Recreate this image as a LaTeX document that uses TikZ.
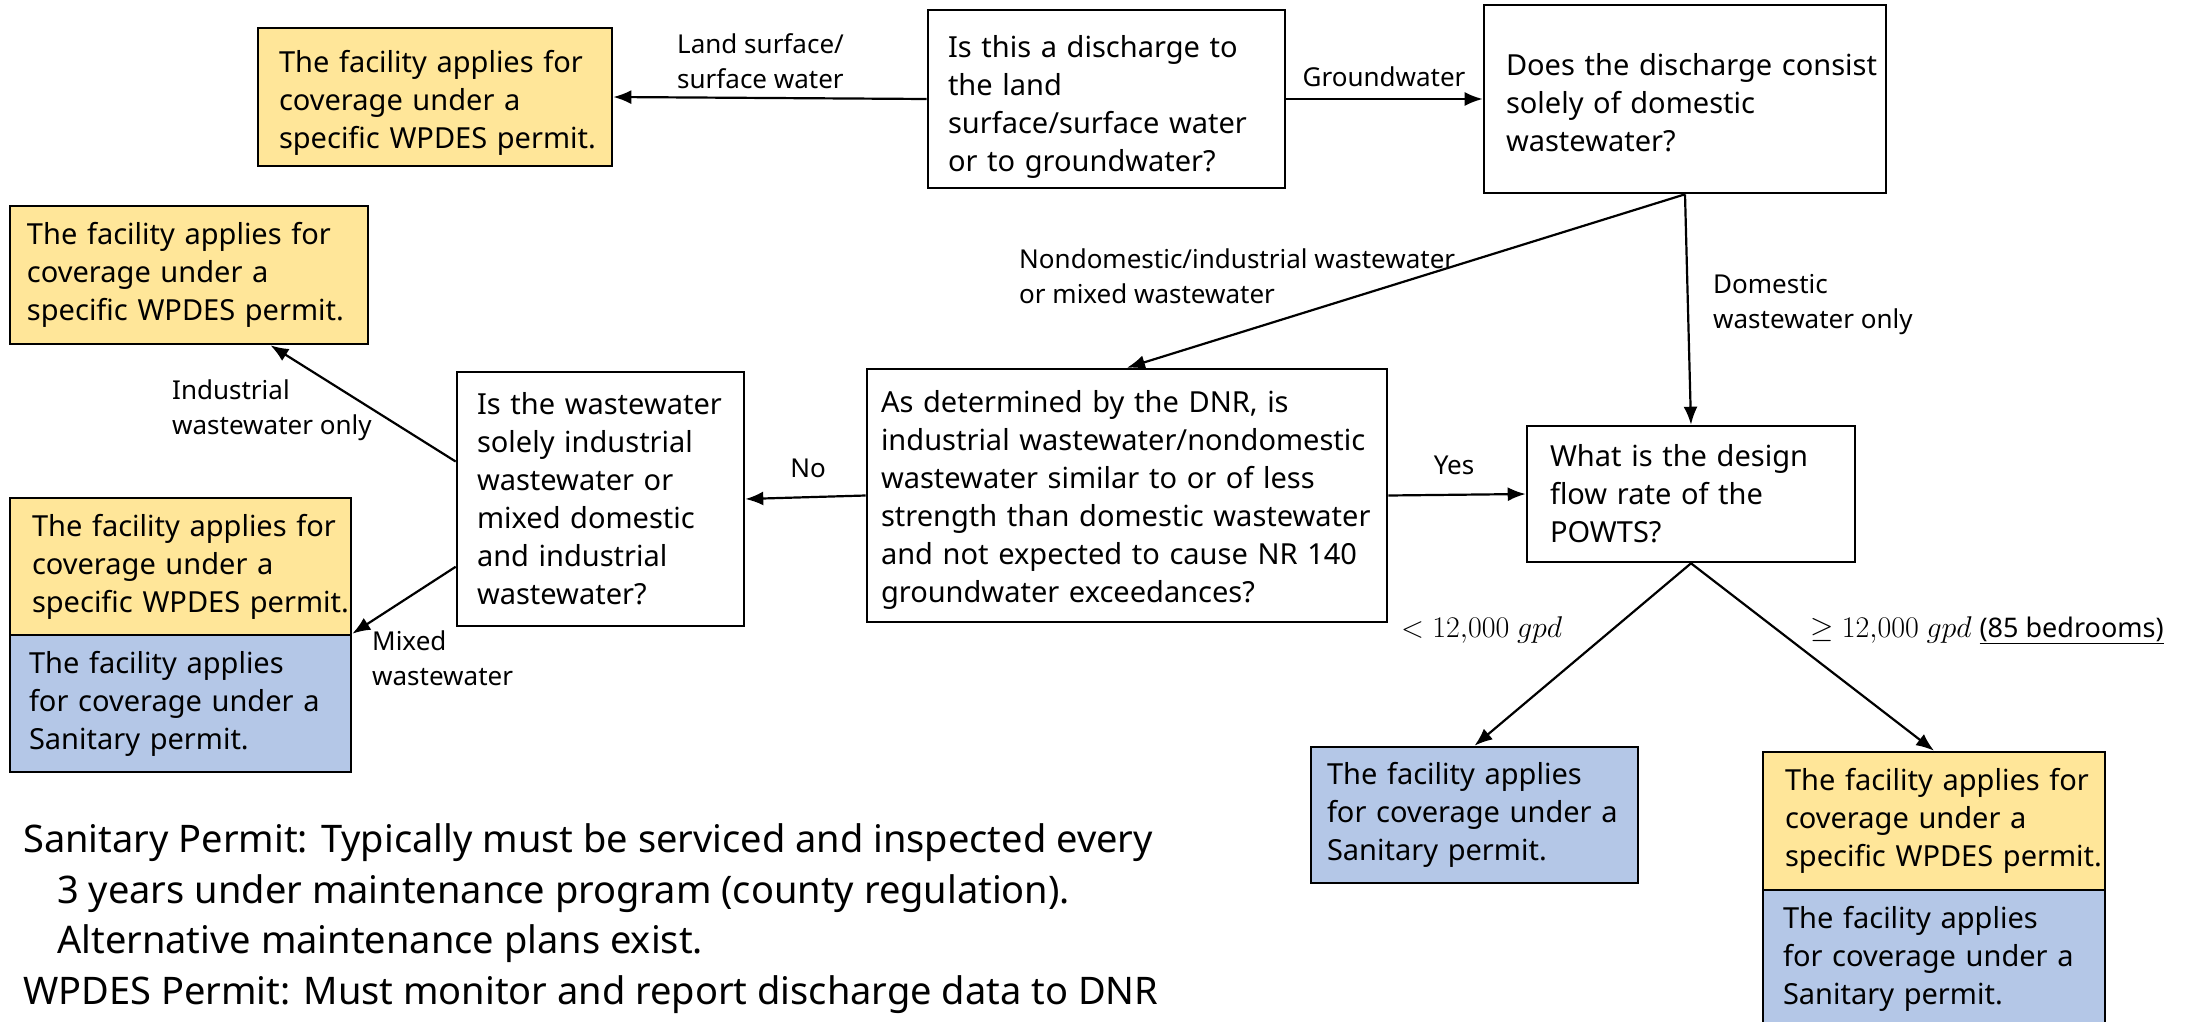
\RequirePackage{fix-cm}
\documentclass[tikz,border=0pt]{standalone}
\usepackage{fontspec}
\setmainfont{Noto Sans}
\usetikzlibrary{arrows.meta,calc}
\definecolor{yellowbox}{HTML}{FFE699}
\definecolor{bluebox}{HTML}{B4C7E7}
\newcommand\oneline[1]{\mbox{#1}}
\begin{document}
\begin{tikzpicture}[x=1pt,y=-1pt,
  box/.style={draw=black, line width=2.6pt, align=left, inner ysep=0pt,
    font=\fontsize{29}{38}\selectfont},
  yel/.style={box, fill=yellowbox},
  blu/.style={box, fill=bluebox},
  tshift/.style={execute at begin node={\rule{0pt}{#1}}},
  lbl/.style={inner sep=0pt, align=left, font=\fontsize{26}{35}\selectfont},
  arr/.style={line width=2.2pt, -{Latex[length=18pt,width=14pt]}}]
\useasboundingbox (0,0) rectangle (2202,1022);
\fill[white] (0,0) rectangle (2202,1022);

% question boxes
\node[box, tshift=38pt, minimum width=357pt, minimum height=178pt, text width=317pt, inner xsep=20pt] (Q1) at (1106.5,99)
 {\oneline{Is this a discharge to}\\\oneline{the land}\\\oneline{surface/surface water}\\\oneline{or to groundwater?}};
\node[box, tshift=30pt, minimum width=402pt, minimum height=188pt, text width=358pt, inner xsep=22pt] (Q2) at (1685,99)
 {\oneline{Does the discharge consist}\\\oneline{solely of domestic}\\\oneline{wastewater?}};
\node[box, minimum width=287pt, minimum height=254pt, text width=247pt, inner xsep=20pt] (Q3) at (600.5,499)
 {\oneline{Is the wastewater}\\\oneline{solely industrial}\\\oneline{wastewater or}\\\oneline{mixed domestic}\\\oneline{and industrial}\\\oneline{wastewater?}};
\node[box, tshift=31pt, minimum width=520pt, minimum height=253pt, text width=492pt, inner xsep=14pt] (Q4) at (1127,495.5)
 {\oneline{As determined by the DNR, is}\\\oneline{industrial wastewater/nondomestic}\\\oneline{wastewater similar to or of less}\\\oneline{strength than domestic wastewater}\\\oneline{and not expected to cause NR 140}\\\oneline{groundwater exceedances?}};
\node[box, minimum width=328pt, minimum height=136pt, text width=282pt, inner xsep=23pt] (Q5) at (1691,494)
 {\oneline{What is the design}\\\oneline{flow rate of the}\\\oneline{POWTS?}};

% outcome boxes
\node[yel, tshift=34pt, minimum width=354pt, minimum height=138pt, text width=312pt, inner xsep=21pt] (A) at (435,97)
 {\oneline{The facility applies for}\\\oneline{coverage under a}\\\oneline{specific WPDES permit.}};
\node[yel, minimum width=358pt, minimum height=138pt, text width=324pt, inner xsep=17pt] (B) at (189,275)
 {\oneline{The facility applies for}\\\oneline{coverage under a}\\\oneline{specific WPDES permit.}};
\node[yel, minimum width=341pt, minimum height=137pt, text width=297pt, inner xsep=22pt] (C) at (180.5,566.5)
 {\oneline{The facility applies for}\\\oneline{coverage under a}\\\oneline{specific WPDES permit.}};
\node[blu, minimum width=341pt, minimum height=137pt, text width=303pt, inner xsep=19pt] (D) at (180.5,703.5)
 {\oneline{The facility applies}\\\oneline{for coverage under a}\\\oneline{Sanitary permit.}};
\node[blu, minimum width=327pt, minimum height=136pt, text width=295pt, inner xsep=16pt] (E) at (1474.5,815)
 {\oneline{The facility applies}\\\oneline{for coverage under a}\\\oneline{Sanitary permit.}};
\node[yel, minimum width=342pt, minimum height=138pt, text width=298pt, inner xsep=22pt] (F) at (1934,821)
 {\oneline{The facility applies for}\\\oneline{coverage under a}\\\oneline{specific WPDES permit.}};
\node[blu, minimum width=342pt, minimum height=138pt, text width=302pt, inner xsep=20pt] (G) at (1934,959)
 {\oneline{The facility applies}\\\oneline{for coverage under a}\\\oneline{Sanitary permit.}};

% connectors
\draw[arr] (Q1.west) -- (A.east);
\draw[arr] (Q1.east) -- (Q2.west);
\draw[arr] (Q2.south) -- (Q4.north);
\draw[arr] (Q2.south) -- (Q5.north);
\draw[arr] (Q4.west) -- (Q3.east);
\draw[arr] (Q4.east) -- (Q5.west);
\coordinate (q3a) at ($(Q3.north west)!0.354!(Q3.south west)$);
\coordinate (ba) at ($(B.south west)!0.726!(B.south east)$);
\coordinate (q3b) at ($(Q3.north west)!0.764!(Q3.south west)$);
\draw[arr] (q3a) -- (ba);
\draw[arr] (q3b) -- (D.north east);
\draw[arr] (Q5.south) -- (E.north);
\draw[arr] (Q5.south) -- (F.north);

% labels
\node[lbl, anchor=west] (lland) at (677,61) {Land surface/\\surface water};
\node[lbl] (lground) at (1384,77) {Groundwater};
\node[lbl, anchor=west] (lnondom) at (1019,276) {Nondomestic/industrial wastewater\\or mixed wastewater};
\node[lbl, anchor=west] (ldom) at (1713,305) {Domestic\\wastewater only};
\node[lbl] (lno) at (808,468) {No};
\node[lbl] (lyes) at (1454,465) {Yes};
\node[lbl, anchor=west] (lind) at (172,410) {Industrial\\wastewater only};
\node[lbl, anchor=west] (lmix) at (372,658) {Mixed\\wastewater};
\node[lbl, anchor=west] (llt) at (1401,630) {\fontsize{30}{35}\selectfont$<12{,}000\ gpd$};
\node[lbl, anchor=west] (lge) at (1810,630) {\fontsize{30}{35}\selectfont$\geq 12{,}000\ gpd$ {\fontsize{27}{35}\selectfont\underline{(85 bedrooms)}}};

% notes
\node[inner sep=0pt, align=left, anchor=west, font=\fontsize{38}{50.5}\selectfont] (notes) at (23,918.5)
 {Sanitary Permit: Typically must be serviced and inspected every\\
  \hspace*{34pt}3 years under maintenance program (county regulation).\\
  \hspace*{34pt}Alternative maintenance plans exist.\\
  WPDES Permit: Must monitor and report discharge data to DNR};
\end{tikzpicture}
\end{document}
